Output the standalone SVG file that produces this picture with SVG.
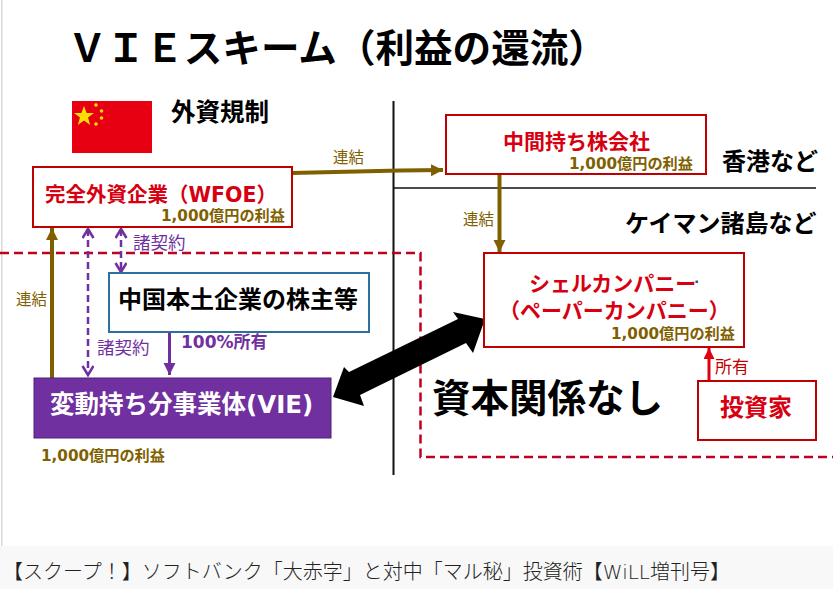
<svg xmlns="http://www.w3.org/2000/svg" width="833" height="589" viewBox="0 0 833 589">
<style>
text{font-family:"DejaVu Sans","Noto Sans CJK JP",sans-serif;}
.b{font-weight:700}
.profit{font-weight:700;font-size:15.2px;fill:#7f6000}
.red{font-weight:700;font-size:20.5px;fill:#d60010}
.blk{font-weight:700;font-size:24px;fill:#000}
.link{font-size:15.500px;fill:#7f6000}
.pur{font-size:17.500px;fill:#7030a0}
.box{fill:#fff;stroke:#c00000;stroke-width:2}
.brown{stroke:#7f6000;stroke-width:4;fill:none}
.pd{stroke:#7030a0;stroke-width:2.500;fill:none;stroke-dasharray:7 4}
</style>
<defs>
<marker id="ab" markerUnits="userSpaceOnUse" markerWidth="14" markerHeight="14" refX="12" refY="6" orient="auto"><path d="M0,0L12,6L0,12Z" fill="#7f6000"/></marker>
<marker id="ap" markerUnits="userSpaceOnUse" markerWidth="14" markerHeight="14" refX="12" refY="6" orient="auto"><path d="M0,0L12,6L0,12Z" fill="#7030a0"/></marker>
<marker id="ar" markerUnits="userSpaceOnUse" markerWidth="14" markerHeight="14" refX="11" refY="5.5" orient="auto"><path d="M0,0L11,5.500L0,11Z" fill="#e00010"/></marker>
<marker id="op" markerUnits="userSpaceOnUse" markerWidth="14" markerHeight="14" refX="11" refY="6" orient="auto-start-reverse"><path d="M2,0.500L11,6L2,11.500" fill="none" stroke="#7030a0" stroke-width="2.500"/></marker>
</defs>
<rect width="833" height="589" fill="#fff"/>
<rect x="1" y="0" width="1.500" height="546" fill="#d8d8d8"/>
<rect x="0" y="546" width="833" height="43" fill="#f8f8f8"/>

<text id="title" class="b" x="68" y="62" font-size="38.600" fill="#000">ＶＩＥスキーム（利益の還流）</text>

<g id="flag">
<rect x="72" y="101" width="80" height="52" fill="#e60012"/>
<polygon points="84,106 86.600,113 94,113 88,117.500 90.200,125 84,120.500 77.800,125 80,117.500 74,113 81.400,113" fill="#ffe000"/>
<g fill="#ffe000"><circle cx="96" cy="105" r="1.800"/><circle cx="101.500" cy="111" r="1.800"/><circle cx="101.500" cy="118" r="1.800"/><circle cx="96" cy="124" r="1.800"/></g>
</g>
<text id="reg" class="blk" x="171" y="121" style="font-size:24.500px">外資規制</text>

<g id="dividers">
<line x1="393.500" y1="101" x2="393.500" y2="475" stroke="#111" stroke-width="2"/>
<line x1="393" y1="188" x2="816" y2="188" stroke="#111" stroke-width="1.500"/>
<path d="M0,253H420.500V457H833" fill="none" stroke="#c00020" stroke-width="2.500" stroke-dasharray="9 5"/>
</g>

<g id="connectors">
<path class="brown" d="M292,173L400,170.500L443,170" marker-end="url(#ab)"/>
<path class="brown" d="M499.500,174V252" marker-end="url(#ab)"/>
<path class="brown" d="M52,378V228" marker-end="url(#ab)"/>
<path class="pd" d="M88,229V375" marker-start="url(#op)" marker-end="url(#op)"/>
<path class="pd" d="M121,229V272" marker-start="url(#op)" marker-end="url(#op)"/>
<path d="M169.500,331V375" stroke="#7030a0" stroke-width="3" fill="none" marker-end="url(#ap)"/>
<path d="M709,381V348" stroke="#e00010" stroke-width="3" fill="none" marker-end="url(#ar)"/>
<polygon points="333,397 344,367 349,372 458,319 453,312 485,319 473,353 466,343 360,395 364,406" fill="#000"/>
</g>

<g id="wfoe"><rect class="box" x="33" y="167" width="259" height="60"/>
<text class="red" x="45" y="202">完全外資企業（WFOE）</text>
<text class="profit" x="161" y="221">1,000億円の利益</text></g>
<g id="middle"><rect class="box" x="446" y="115" width="260" height="59"/>
<text class="red" x="503" y="149" style="font-size:21px">中間持ち株会社</text>
<text class="profit" x="569" y="169">1,000億円の利益</text></g>
<g id="shell"><rect class="box" x="484" y="253" width="260" height="94"/>
<text class="red" x="529" y="291" style="font-size:21px">シェルカンパニー</text>
<text class="red" x="499" y="318" style="font-size:21px">（ペーパーカンパニー）</text>
<text class="profit" x="611" y="339">1,000億円の利益</text>
<rect x="695.500" y="280.500" width="2.500" height="2.500" fill="#2f5597"/></g>
<g id="investor"><rect class="box" x="698" y="381" width="118" height="59"/>
<text class="red" x="720" y="416" style="font-size:24px">投資家</text></g>
<g id="shareholders"><rect x="109" y="273" width="260" height="59" fill="#fff" stroke="#2e6f9e" stroke-width="2"/>
<text class="blk" x="118" y="308">中国本土企業の株主等</text></g>
<g id="vie"><rect x="34" y="378" width="297" height="60" fill="#7030a0" stroke="#4f2270"/>
<text x="50" y="413" font-size="24.500" font-weight="700" fill="#fff">変動持ち分事業体(VIE)</text></g>

<g id="labels">
<text class="profit" x="41" y="461">1,000億円の利益</text>
<text class="link" x="333" y="163">連結</text>
<text class="link" x="16" y="305">連結</text>
<text class="link" x="463" y="225">連結</text>
<text class="pur" x="133" y="249">諸契約</text>
<text class="pur" x="97" y="354">諸契約</text>
<text class="pur" x="181" y="348" style="font-size:17px;font-weight:700">100%所有</text>
<text x="715" y="373" font-size="17" fill="#c00000">所有</text>
<text class="blk" x="722" y="170">香港など</text>
<text class="blk" x="625" y="232">ケイマン諸島など</text>
<text x="432" y="412" font-size="38.500" font-weight="700" fill="#000">資本関係なし</text>
</g>
<text id="caption" x="3" y="579" font-size="20" fill="#222" font-weight="300">【スクープ！】ソフトバンク「大赤字」と対中「マル秘」投資術【WiLL増刊号】</text>
</svg>
